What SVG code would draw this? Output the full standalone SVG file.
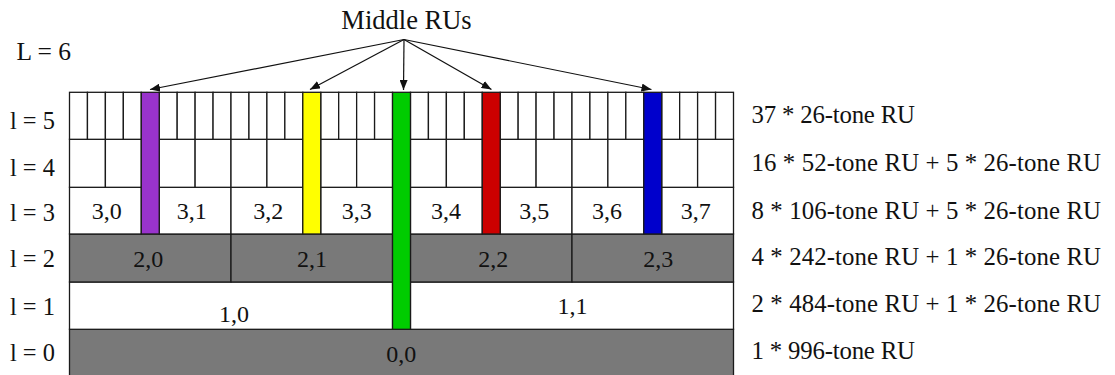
<svg xmlns="http://www.w3.org/2000/svg" width="1115" height="375" viewBox="0 0 1115 375">
  <style>
    text { font-family: "Liberation Serif", "Times New Roman", serif; fill: #111; }
    .lbl { font-size: 24.4px; }
    .sum { font-size: 24.8px; }
    .cell-t { font-size: 24px; text-anchor: middle; }
    .title { font-size: 26.5px; text-anchor: middle; }
    .w { fill: #ffffff; stroke: #1a1a1a; stroke-width: 1.3; }
    .g { fill: #797979; stroke: #1a1a1a; stroke-width: 1.3; }
    .purple { fill: #9933cc; stroke: #1a1a1a; stroke-width: 1.3; }
    .yellow { fill: #ffff00; stroke: #1a1a1a; stroke-width: 1.3; }
    .green { fill: #00cc00; stroke: #1a1a1a; stroke-width: 1.3; }
    .red { fill: #cc0000; stroke: #1a1a1a; stroke-width: 1.3; }
    .blue { fill: #0000cc; stroke: #1a1a1a; stroke-width: 1.3; }
    .arrow { stroke: #111; stroke-width: 1.2; fill: none; marker-end: url(#head); }
  </style>
  <defs>
    <marker id="head" viewBox="0 0 10 8" refX="10" refY="4" markerWidth="10" markerHeight="8" markerUnits="userSpaceOnUse" orient="auto">
      <path d="M0,0 L10,4 L0,8 z" fill="#111"/>
    </marker>
  </defs>

  <!-- headings and level labels -->
  <text class="title" x="406.5" y="28.5">Middle RUs</text>
  <text class="lbl" x="16.5" y="60" style="font-size:25.5px">L = 6</text>
  <g id="level-labels">
    <text class="lbl" x="10" y="129">l = 5</text>
    <text class="lbl" x="10" y="176">l = 4</text>
    <text class="lbl" x="10" y="221">l = 3</text>
    <text class="lbl" x="10" y="267">l = 2</text>
    <text class="lbl" x="10" y="315">l = 1</text>
    <text class="lbl" x="10" y="361">l = 0</text>
  </g>
  <g id="level-summaries">
    <text class="sum" x="751.5" y="123" textLength="163.5" lengthAdjust="spacing">37 * 26-tone RU</text>
    <text class="sum" x="751.5" y="171" textLength="349.5" lengthAdjust="spacing">16 * 52-tone RU + 5 * 26-tone RU</text>
    <text class="sum" x="751.5" y="219" textLength="349.5" lengthAdjust="spacing">8 * 106-tone RU + 5 * 26-tone RU</text>
    <text class="sum" x="751.5" y="265" textLength="349.5" lengthAdjust="spacing">4 * 242-tone RU + 1 * 26-tone RU</text>
    <text class="sum" x="751.5" y="312" textLength="349.5" lengthAdjust="spacing">2 * 484-tone RU + 1 * 26-tone RU</text>
    <text class="sum" x="751.5" y="358.5" textLength="163.5" lengthAdjust="spacing">1 * 996-tone RU</text>
  </g>

  <!-- l = 0 : one 996-tone RU -->
  <g id="ru-0-0">
    <rect class="g" x="69.5" y="329.3" width="664" height="47.2"/>
    <text class="cell-t" x="401.3" y="361.7">0,0</text>
  </g>

  <!-- l = 1 : two 484-tone RUs -->
  <g id="ru-1-0">
    <rect class="w" x="69.5" y="282" width="323.03" height="47.3"/>
    <text class="cell-t" x="234" y="321.7">1,0</text>
  </g>
  <g id="ru-1-1">
    <rect class="w" x="410.47" y="282" width="323.03" height="47.3"/>
    <text class="cell-t" x="572.5" y="314.3">1,1</text>
  </g>

  <!-- l = 2 : four 242-tone RUs -->
  <g id="ru-2-0">
    <rect class="g" x="69.5" y="234" width="161.51" height="48"/>
    <text class="cell-t" x="148.3" y="267.3">2,0</text>
  </g>
  <g id="ru-2-1">
    <rect class="g" x="231.01" y="234" width="161.52" height="48"/>
    <text class="cell-t" x="312" y="267.3">2,1</text>
  </g>
  <g id="ru-2-2">
    <rect class="g" x="410.47" y="234" width="161.52" height="48"/>
    <text class="cell-t" x="493.3" y="267.3">2,2</text>
  </g>
  <g id="ru-2-3">
    <rect class="g" x="571.99" y="234" width="161.51" height="48"/>
    <text class="cell-t" x="658.3" y="267.3">2,3</text>
  </g>

  <!-- l = 3 : eight 106-tone RUs -->
  <g id="ru-3-0">
    <rect class="w" x="69.5" y="187.3" width="71.78" height="46.7"/>
    <text class="cell-t" x="106.7" y="219.3">3,0</text>
  </g>
  <g id="ru-3-1">
    <rect class="w" x="159.23" y="187.3" width="71.78" height="46.7"/>
    <text class="cell-t" x="191.7" y="219.3">3,1</text>
  </g>
  <g id="ru-3-2">
    <rect class="w" x="231.01" y="187.3" width="71.79" height="46.7"/>
    <text class="cell-t" x="268.3" y="219.3">3,2</text>
  </g>
  <g id="ru-3-3">
    <rect class="w" x="320.74" y="187.3" width="71.79" height="46.7"/>
    <text class="cell-t" x="356.7" y="219.3">3,3</text>
  </g>
  <g id="ru-3-4">
    <rect class="w" x="410.47" y="187.3" width="71.79" height="46.7"/>
    <text class="cell-t" x="446" y="219.3">3,4</text>
  </g>
  <g id="ru-3-5">
    <rect class="w" x="500.2" y="187.3" width="71.79" height="46.7"/>
    <text class="cell-t" x="534.3" y="219.3">3,5</text>
  </g>
  <g id="ru-3-6">
    <rect class="w" x="571.99" y="187.3" width="71.78" height="46.7"/>
    <text class="cell-t" x="607" y="219.3">3,6</text>
  </g>
  <g id="ru-3-7">
    <rect class="w" x="661.72" y="187.3" width="71.78" height="46.7"/>
    <text class="cell-t" x="695.8" y="219.3">3,7</text>
  </g>

  <!-- l = 4 : sixteen 52-tone RUs -->
  <g id="level-4">
    <rect class="w" x="69.5" y="139.3" width="35.89" height="48"/>
    <rect class="w" x="105.39" y="139.3" width="35.89" height="48"/>
    <rect class="w" x="159.23" y="139.3" width="35.89" height="48"/>
    <rect class="w" x="195.12" y="139.3" width="35.89" height="48"/>
    <rect class="w" x="231.01" y="139.3" width="35.9" height="48"/>
    <rect class="w" x="266.91" y="139.3" width="35.89" height="48"/>
    <rect class="w" x="320.74" y="139.3" width="35.9" height="48"/>
    <rect class="w" x="356.64" y="139.3" width="35.89" height="48"/>
    <rect class="w" x="410.47" y="139.3" width="35.9" height="48"/>
    <rect class="w" x="446.37" y="139.3" width="35.89" height="48"/>
    <rect class="w" x="500.2" y="139.3" width="35.9" height="48"/>
    <rect class="w" x="536.1" y="139.3" width="35.89" height="48"/>
    <rect class="w" x="571.99" y="139.3" width="35.89" height="48"/>
    <rect class="w" x="607.88" y="139.3" width="35.89" height="48"/>
    <rect class="w" x="661.72" y="139.3" width="35.89" height="48"/>
    <rect class="w" x="697.61" y="139.3" width="35.89" height="48"/>
  </g>

  <!-- l = 5 : thirty-seven 26-tone RUs -->
  <g id="level-5">
    <rect class="w" x="69.5" y="92.3" width="17.95" height="47"/>
    <rect class="w" x="87.45" y="92.3" width="17.94" height="47"/>
    <rect class="w" x="105.39" y="92.3" width="17.95" height="47"/>
    <rect class="w" x="123.34" y="92.3" width="17.94" height="47"/>
    <rect class="w" x="159.23" y="92.3" width="17.95" height="47"/>
    <rect class="w" x="177.18" y="92.3" width="17.94" height="47"/>
    <rect class="w" x="195.12" y="92.3" width="17.95" height="47"/>
    <rect class="w" x="213.07" y="92.3" width="17.94" height="47"/>
    <rect class="w" x="231.01" y="92.3" width="17.95" height="47"/>
    <rect class="w" x="248.96" y="92.3" width="17.95" height="47"/>
    <rect class="w" x="266.91" y="92.3" width="17.94" height="47"/>
    <rect class="w" x="284.85" y="92.3" width="17.95" height="47"/>
    <rect class="w" x="320.74" y="92.3" width="17.95" height="47"/>
    <rect class="w" x="338.69" y="92.3" width="17.95" height="47"/>
    <rect class="w" x="356.64" y="92.3" width="17.94" height="47"/>
    <rect class="w" x="374.58" y="92.3" width="17.95" height="47"/>
    <rect class="w" x="410.47" y="92.3" width="17.95" height="47"/>
    <rect class="w" x="428.42" y="92.3" width="17.95" height="47"/>
    <rect class="w" x="446.37" y="92.3" width="17.94" height="47"/>
    <rect class="w" x="464.31" y="92.3" width="17.95" height="47"/>
    <rect class="w" x="500.2" y="92.3" width="17.95" height="47"/>
    <rect class="w" x="518.15" y="92.3" width="17.95" height="47"/>
    <rect class="w" x="536.1" y="92.3" width="17.94" height="47"/>
    <rect class="w" x="554.04" y="92.3" width="17.95" height="47"/>
    <rect class="w" x="571.99" y="92.3" width="17.94" height="47"/>
    <rect class="w" x="589.93" y="92.3" width="17.95" height="47"/>
    <rect class="w" x="607.88" y="92.3" width="17.95" height="47"/>
    <rect class="w" x="625.83" y="92.3" width="17.94" height="47"/>
    <rect class="w" x="661.72" y="92.3" width="17.94" height="47"/>
    <rect class="w" x="679.66" y="92.3" width="17.95" height="47"/>
    <rect class="w" x="697.61" y="92.3" width="17.95" height="47"/>
    <rect class="w" x="715.56" y="92.3" width="17.94" height="47"/>
  </g>

  <!-- middle 26-tone RUs, shared across levels -->
  <g id="mid-ru-purple"><rect class="purple" x="141.28" y="92.3" width="17.95" height="141.7"/></g>
  <g id="mid-ru-yellow"><rect class="yellow" x="302.8" y="92.3" width="17.94" height="141.7"/></g>
  <g id="mid-ru-green"><rect class="green" x="392.53" y="92.3" width="17.94" height="237"/></g>
  <g id="mid-ru-red"><rect class="red" x="482.26" y="92.3" width="17.94" height="141.7"/></g>
  <g id="mid-ru-blue"><rect class="blue" x="643.77" y="92.3" width="17.95" height="141.7"/></g>

  <!-- pointers from the heading to each middle RU -->
  <g id="connectors">
    <line class="arrow" x1="404" y1="39.5" x2="150" y2="89.5"/>
    <line class="arrow" x1="404" y1="39.5" x2="310" y2="89.5"/>
    <line class="arrow" x1="404" y1="39.5" x2="403.5" y2="90"/>
    <line class="arrow" x1="404" y1="39.5" x2="491.5" y2="89.5"/>
    <line class="arrow" x1="404" y1="39.5" x2="651.5" y2="89.5"/>
  </g>
</svg>
